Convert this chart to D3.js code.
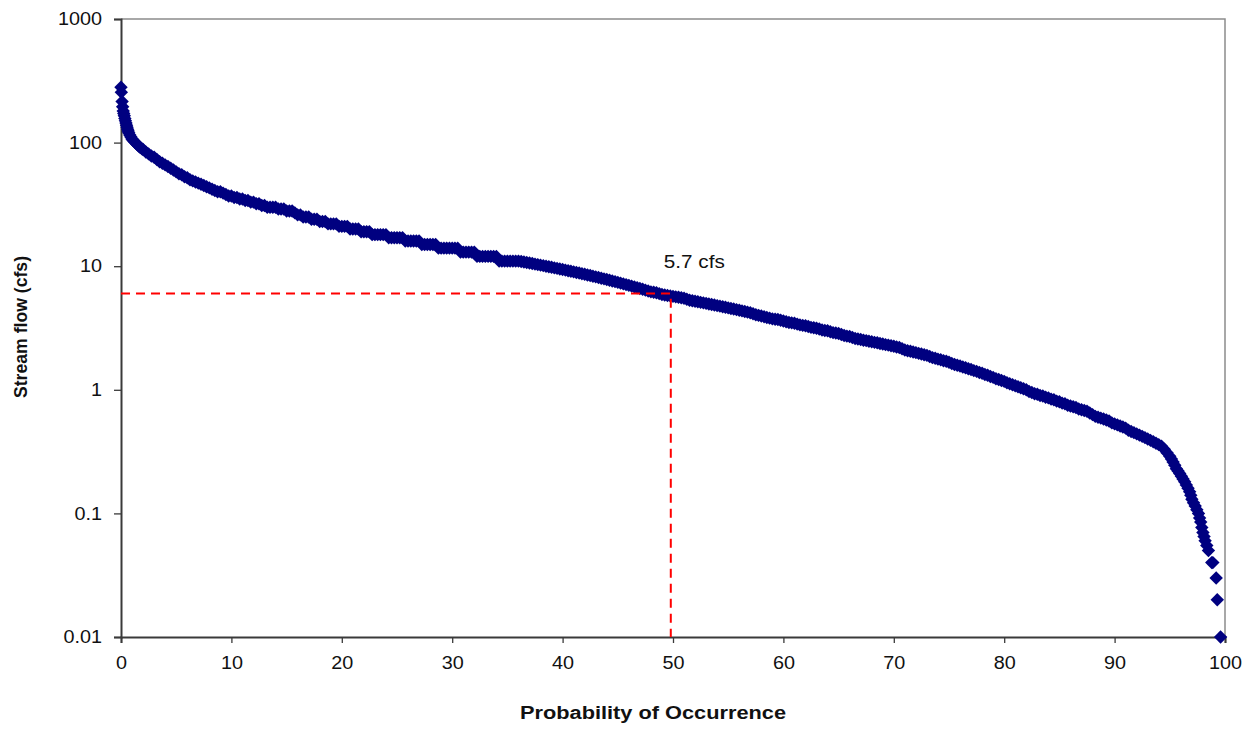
<!DOCTYPE html>
<html>
<head>
<meta charset="utf-8">
<script src="https://cdn.jsdelivr.net/npm/d3@7"></script>
<style>
  body { margin: 0; background: #fff; }
  text { font-family: "Liberation Sans", Arial, sans-serif; }
</style>
</head>
<body>
<svg class="chart" width="1251" height="729"></svg>
<script>
// exceedance probability (%)
const probability = [
  0, 0.03, 0.1, 0.15, 0.2, 0.25, 0.3, 0.35, 0.4, 0.45, 0.5, 0.55, 0.6, 0.65, 0.7, 0.8, 0.9, 1, 1.1, 1.25,
  1.4, 1.5, 1.6, 1.75, 1.9, 2, 2.25, 2.5, 2.75, 3, 3.25, 3.5, 3.75, 4, 4.25, 4.5, 4.75, 5, 5.25, 5.5,
  5.75, 6, 6.25, 6.5, 6.75, 7, 7.25, 7.5, 7.75, 8, 8.25, 8.5, 8.75, 9, 9.25, 9.5, 9.75, 10, 10.25, 10.5,
  10.75, 11, 11.25, 11.5, 11.75, 12, 12.25, 12.5, 12.75, 13, 13.25, 13.5, 13.75, 14, 14.25, 14.5, 14.75, 15, 15.25, 15.5,
  15.75, 16, 16.25, 16.5, 16.75, 17, 17.25, 17.5, 17.75, 18, 18.25, 18.5, 18.75, 19, 19.25, 19.5, 19.75, 20, 20.25, 20.5,
  20.75, 21, 21.25, 21.5, 21.75, 22, 22.25, 22.5, 22.75, 23, 23.25, 23.5, 23.75, 24, 24.25, 24.5, 24.75, 25, 25.25, 25.5,
  25.75, 26, 26.25, 26.5, 26.75, 27, 27.25, 27.5, 27.75, 28, 28.25, 28.5, 28.75, 29, 29.25, 29.5, 29.75, 30, 30.25, 30.5,
  30.75, 31, 31.25, 31.5, 31.75, 32, 32.25, 32.5, 32.75, 33, 33.25, 33.5, 33.75, 34, 34.25, 34.5, 34.75, 35, 35.25, 35.5,
  35.75, 36, 36.25, 36.5, 36.75, 37, 37.25, 37.5, 37.75, 38, 38.25, 38.5, 38.75, 39, 39.25, 39.5, 39.75, 40, 40.25, 40.5,
  40.75, 41, 41.25, 41.5, 41.75, 42, 42.25, 42.5, 42.75, 43, 43.25, 43.5, 43.75, 44, 44.25, 44.5, 44.75, 45, 45.25, 45.5,
  45.75, 46, 46.25, 46.5, 46.75, 47, 47.25, 47.5, 47.75, 48, 48.25, 48.5, 48.75, 49, 49.25, 49.5, 49.75, 50, 50.25, 50.5,
  50.75, 51, 51.25, 51.5, 51.75, 52, 52.25, 52.5, 52.75, 53, 53.25, 53.5, 53.75, 54, 54.25, 54.5, 54.75, 55, 55.25, 55.5,
  55.75, 56, 56.25, 56.5, 56.75, 57, 57.25, 57.5, 57.75, 58, 58.25, 58.5, 58.75, 59, 59.25, 59.5, 59.75, 60, 60.25, 60.5,
  60.75, 61, 61.25, 61.5, 61.75, 62, 62.25, 62.5, 62.75, 63, 63.25, 63.5, 63.75, 64, 64.25, 64.5, 64.75, 65, 65.25, 65.5,
  65.75, 66, 66.25, 66.5, 66.75, 67, 67.25, 67.5, 67.75, 68, 68.25, 68.5, 68.75, 69, 69.25, 69.5, 69.75, 70, 70.25, 70.5,
  70.75, 71, 71.25, 71.5, 71.75, 72, 72.25, 72.5, 72.75, 73, 73.25, 73.5, 73.75, 74, 74.25, 74.5, 74.75, 75, 75.25, 75.5,
  75.75, 76, 76.25, 76.5, 76.75, 77, 77.25, 77.5, 77.75, 78, 78.25, 78.5, 78.75, 79, 79.25, 79.5, 79.75, 80, 80.25, 80.5,
  80.75, 81, 81.25, 81.5, 81.75, 82, 82.25, 82.5, 82.75, 83, 83.25, 83.5, 83.75, 84, 84.25, 84.5, 84.75, 85, 85.25, 85.5,
  85.75, 86, 86.25, 86.5, 86.75, 87, 87.25, 87.5, 87.75, 88, 88.25, 88.5, 88.75, 89, 89.25, 89.5, 89.75, 90, 90.25, 90.5,
  90.75, 91, 91.25, 91.5, 91.75, 92, 92.25, 92.5, 92.75, 93, 93.25, 93.5, 93.75, 94, 94.25, 94.5, 94.75, 95, 95.15, 95.3,
  95.45, 95.6, 95.75, 95.9, 96.05, 96.2, 96.35, 96.5, 96.65, 96.8, 96.9, 97, 97.15, 97.3, 97.45, 97.6, 97.7, 97.8, 97.9, 98,
  98.1, 98.2, 98.35, 98.5, 98.8, 98.9, 99.2, 99.3, 99.6
];

// stream flow (cfs), same order
const flow = [
  280, 255, 215, 195, 180, 172, 165, 157, 150, 144, 138, 133, 128, 124, 120, 115, 111, 107, 104, 101,
  98, 96, 94, 91, 89, 88, 84, 81, 78, 76, 73, 70, 68, 66, 64, 62, 60, 58, 56, 55,
  53, 52, 50, 49, 48, 47, 46, 45, 44, 43, 42, 41, 40, 40, 39, 38, 37, 37, 36, 36,
  35, 35, 34, 34, 33, 33, 32, 32, 31, 31, 30, 30, 30, 30, 29, 29, 29, 28, 28, 28,
  27, 26, 26, 25, 25, 25, 24, 24, 24, 23, 23, 23, 22, 22, 22, 22, 21, 21, 21, 21,
  20, 20, 20, 20, 19, 19, 19, 19, 18, 18, 18, 18, 18, 18, 17, 17, 17, 17, 17, 17,
  16, 16, 16, 16, 16, 16, 15, 15, 15, 15, 15, 15, 14, 14, 14, 14, 14, 14, 14, 14,
  13, 13, 13, 13, 13, 13, 12, 12, 12, 12, 12, 12, 12, 12, 11, 11, 11, 11, 11, 11,
  11, 11, 10.9, 10.8, 10.7, 10.6, 10.5, 10.4, 10.3, 10.2, 10.1, 10.0, 9.9, 9.8, 9.7, 9.6, 9.5, 9.4, 9.3, 9.2,
  9.1, 9.0, 8.9, 8.8, 8.7, 8.6, 8.5, 8.4, 8.3, 8.2, 8.1, 8.0, 7.9, 7.8, 7.7, 7.6, 7.5, 7.4, 7.3, 7.2,
  7.1, 7.0, 6.9, 6.8, 6.7, 6.6, 6.5, 6.4, 6.3, 6.2, 6.15, 6.1, 6.0, 5.9, 5.85, 5.8, 5.75, 5.7, 5.65, 5.6,
  5.55, 5.5, 5.4, 5.3, 5.25, 5.2, 5.15, 5.1, 5.05, 5.0, 4.95, 4.9, 4.85, 4.8, 4.75, 4.7, 4.65, 4.6, 4.55, 4.5,
  4.45, 4.4, 4.35, 4.3, 4.25, 4.2, 4.12, 4.05, 4.0, 3.95, 3.9, 3.85, 3.8, 3.75, 3.72, 3.7, 3.65, 3.6, 3.55, 3.5,
  3.48, 3.45, 3.4, 3.35, 3.32, 3.3, 3.25, 3.2, 3.18, 3.15, 3.1, 3.05, 3.02, 3.0, 2.95, 2.9, 2.88, 2.85, 2.8, 2.75,
  2.72, 2.7, 2.65, 2.6, 2.58, 2.55, 2.52, 2.5, 2.47, 2.45, 2.42, 2.4, 2.37, 2.35, 2.32, 2.3, 2.27, 2.25, 2.22, 2.2,
  2.15, 2.1, 2.07, 2.05, 2.02, 2.0, 1.97, 1.95, 1.92, 1.9, 1.86, 1.82, 1.8, 1.77, 1.75, 1.72, 1.7, 1.67, 1.63, 1.6,
  1.58, 1.56, 1.53, 1.51, 1.48, 1.46, 1.43, 1.41, 1.38, 1.36, 1.33, 1.31, 1.28, 1.26, 1.23, 1.21, 1.19, 1.17, 1.14, 1.12,
  1.1, 1.08, 1.06, 1.04, 1.02, 1.0, 0.97, 0.95, 0.93, 0.92, 0.9, 0.89, 0.87, 0.86, 0.84, 0.83, 0.81, 0.8, 0.78, 0.77,
  0.75, 0.74, 0.73, 0.72, 0.7, 0.69, 0.68, 0.67, 0.65, 0.63, 0.61, 0.6, 0.59, 0.58, 0.57, 0.56, 0.54, 0.53, 0.52, 0.51,
  0.5, 0.49, 0.47, 0.46, 0.45, 0.44, 0.43, 0.42, 0.41, 0.4, 0.39, 0.38, 0.37, 0.36, 0.35, 0.33, 0.31, 0.29, 0.275, 0.26,
  0.245, 0.23, 0.22, 0.21, 0.2, 0.19, 0.18, 0.17, 0.16, 0.15, 0.14, 0.13, 0.122, 0.115, 0.107, 0.1, 0.092, 0.085, 0.077, 0.07,
  0.065, 0.06, 0.055, 0.05, 0.04, 0.04, 0.03, 0.02, 0.01
];

const xTicks = [0, 10, 20, 30, 40, 50, 60, 70, 80, 90, 100];
const yTicks = [0.01, 0.1, 1, 10, 100, 1000];

// median marker
const medianProb = 49.8;
const medianGuide = 6;
const medianLabel = "5.7 cfs";

const points = probability.map((p, i) => ({p: p, q: flow[i]}));

const margin = {top: 19, right: 26, bottom: 92, left: 121};
const W = 1251, H = 729;
const innerW = W - margin.left - margin.right;
const innerH = H - margin.top - margin.bottom;

const svg = d3.select(".chart");
const g = svg.append("g").attr("transform", `translate(${margin.left},${margin.top})`);

const x = d3.scaleLinear().domain([0, 100]).range([0, innerW]);
const y = d3.scaleLog().domain([0.01, 1000]).range([innerH, 0]);

// the original text is a bit wider than Liberation Sans
function widen(sel, k) {
  sel.each(function() {
    const len = this.getComputedTextLength();
    d3.select(this).attr("textLength", len * k).attr("lengthAdjust", "spacingAndGlyphs");
  });
}

// top and right frame (lighter grey)
g.append("path")
  .attr("d", `M0,0H${innerW}V${innerH}`)
  .attr("fill", "none")
  .attr("stroke", "#8c8c8c")
  .attr("stroke-width", 1.5);

const xAxis = g.append("g")
  .attr("transform", `translate(0,${innerH})`)
  .call(d3.axisBottom(x).tickValues(xTicks).tickSize(6).tickPadding(13).tickFormat(d3.format("d")));

const yAxis = g.append("g")
  .call(d3.axisLeft(y).tickValues(yTicks).tickSize(7).tickPadding(12).tickFormat(d => String(d)));

[xAxis, yAxis].forEach(a => {
  a.select(".domain").attr("stroke", "#3a3a3a").attr("stroke-width", 2);
  a.selectAll(".tick line").attr("stroke", "#3a3a3a").attr("stroke-width", 1.3);
  a.selectAll(".tick text").attr("font-size", 18).attr("fill", "#111")
    .style("font-family", "'Liberation Sans', Arial, sans-serif");
  widen(a.selectAll(".tick text"), 1.1);
});

// the diamonds
const diamond = d3.symbol().type(d3.symbolSquare).size(90);
g.append("g").selectAll("path")
  .data(points)
  .enter()
  .append("path")
  .attr("d", diamond)
  .attr("transform", d => `translate(${x(d.p)},${y(d.q)}) rotate(45)`)
  .attr("fill", "#000080");

// red dashed guide to the median
g.append("path")
  .attr("d", `M${x(0)},${y(medianGuide)}H${x(medianProb)}V${innerH}`)
  .attr("fill", "none")
  .attr("stroke", "#ff0000")
  .attr("stroke-width", 2)
  .attr("stroke-dasharray", "9,6");

g.append("text")
  .attr("x", x(medianProb) - 7)
  .attr("y", y(medianGuide) - 26)
  .attr("font-size", 18)
  .attr("fill", "#111")
  .text(medianLabel)
  .call(widen, 1.15);

// axis titles
svg.append("text")
  .attr("x", 653)
  .attr("y", 719)
  .attr("text-anchor", "middle")
  .attr("font-size", 18)
  .attr("font-weight", "bold")
  .attr("fill", "#111")
  .attr("textLength", 266)
  .attr("lengthAdjust", "spacingAndGlyphs")
  .text("Probability of Occurrence");

svg.append("text")
  .attr("transform", "translate(27,327) rotate(-90)")
  .attr("text-anchor", "middle")
  .attr("font-size", 18)
  .attr("font-weight", "bold")
  .attr("fill", "#111")
  .attr("textLength", 142)
  .attr("lengthAdjust", "spacingAndGlyphs")
  .text("Stream flow (cfs)");
</script>
</body>
</html>
